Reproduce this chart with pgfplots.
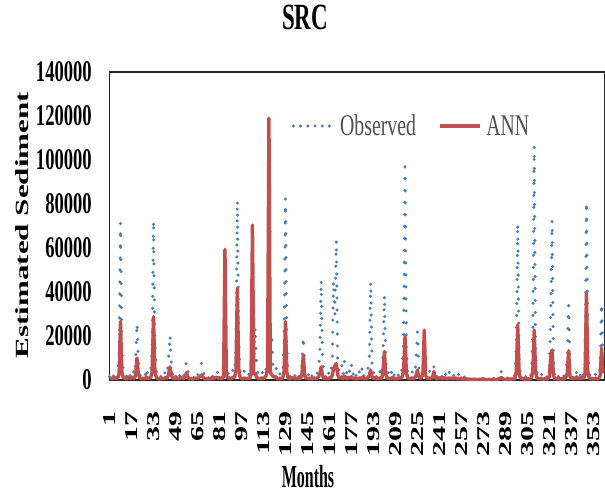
\documentclass[border=0pt]{standalone}
\usepackage{fontspec}
\setmainfont{Liberation Serif}
\newfontfamily\condA[FakeStretch=0.62]{Liberation Serif}
\newfontfamily\condL[FakeStretch=0.66]{Liberation Serif}
\newfontfamily\condM[FakeStretch=0.5]{Liberation Serif}
\usepackage{graphicx}
\usepackage{pgfplots}
\pgfplotsset{compat=1.18}
\definecolor{obsblue}{HTML}{4A7EBB}
\definecolor{annred}{HTML}{C0504D}
\definecolor{leggray}{HTML}{505050}
\pgfplotsset{
  linelegend/.style={legend image code/.code={\draw[##1] (0pt,0pt) -- (40pt,0pt);}},
  dotlegend/.style={legend image code/.code={\draw[##1, dash pattern=on 0pt off 7.2pt] (0pt,0pt) -- (40pt,0pt);}},
}
\begin{document}
\begin{tikzpicture}
\begin{axis}[
  at={(0pt,0pt)}, anchor=south west,
  scale only axis, width=495.5pt, height=308pt,
  xmin=1, xmax=361.5, ymin=0, ymax=140000,
  clip=false,
  axis line style={line width=1.2pt, black!85},
  major tick length=0pt,
  xtick={1,17,...,353},
  xticklabel={\scalebox{1}[0.6]{\pgfmathprintnumber[assume math mode=true]{\tick}}},
  xticklabel style={rotate=90, anchor=east, inner sep=0pt, font=\bfseries\fontsize{30}{30}\selectfont},
  xticklabel shift=31pt,
  ytick={0,20000,40000,60000,80000,100000,120000,140000},
  yticklabels={0,20000,40000,60000,80000,100000,120000,140000},
  scaled y ticks=false,
  yticklabel style={anchor=east, inner sep=0pt, font=\condA\bfseries\fontsize{30}{30}\selectfont},
  yticklabel shift=17.5pt,
  title={SRC},
  title style={at={(0.3946,1.1169)}, anchor=base, inner sep=0pt, font=\condA\bfseries\fontsize{37}{37}\selectfont},
  xlabel={Months},
  xlabel style={at={(0.4006,-0.3149)}, anchor=center, inner sep=0pt, font=\condM\bfseries\fontsize{32}{32}\selectfont},
  ylabel={\scalebox{1}[0.6]{Estimated Sediment}},
  ylabel style={at={(-0.1756,0.503)}, anchor=center, inner sep=0pt, font=\bfseries\fontsize{31}{31}\selectfont},
  legend columns=2,
  legend style={at={(0.6075,0.8247)}, anchor=center, draw=none, fill=none, inner sep=0pt,
    font=\condL\fontsize{30}{30}\selectfont, text=leggray, column sep=5pt,
    nodes={inner sep=0pt},
    /tikz/every even column/.append style={column sep=22pt}},
]
\addplot[obsblue, line width=3.4pt, line cap=round, line join=round, dash pattern=on 0pt off 12pt, dotlegend]
coordinates {
(1,1500)(2,3200)(3,800)(4,2100)(5,4200)(6,1200)(7,2800)(8,9500)(9,71500)(10,14000)(11,3500)(12,1800)
(13,1200)(14,2600)(15,4500)(16,1800)(17,3000)(18,5200)(19,2200)(20,7000)(21,25900)(22,9000)(23,2500)(24,1500)
(25,3000)(26,1400)(27,2200)(28,5600)(29,1800)(30,2600)(31,4000)(32,12000)(33,72700)(34,16000)(35,4200)(36,1600)
(37,2400)(38,1000)(39,3400)(40,1600)(41,2800)(42,4500)(43,3000)(44,9500)(45,20400)(46,7500)(47,2000)(48,3600)
(49,1200)(50,4200)(51,3000)(52,1800)(53,4500)(54,3800)(55,2000)(56,5000)(57,8300)(58,4000)(59,1500)(60,2200)
(61,1800)(62,900)(63,2400)(64,3500)(65,1600)(66,4800)(67,5500)(68,7900)(69,4200)(70,2000)(71,1000)(72,2600)
(73,1000)(74,2200)(75,3800)(76,1500)(77,3200)(78,4500)(79,4800)(80,2500)(81,3600)(82,1800)(83,1200)(84,2600)
(85,3200)(86,1500)(87,2800)(88,4000)(89,2200)(90,3000)(91,5200)(92,3800)(93,14000)(94,81800)(95,18000)(96,4000)
(97,2200)(98,1500)(99,4000)(100,2800)(101,1200)(102,3000)(103,2000)(104,3500)(105,5000)(106,9000)(107,24000)(108,6000)
(109,3000)(110,1800)(111,2600)(112,4200)(113,1500)(114,3200)(115,5200)(116,4000)(117,6500)(118,9000)(119,21000)(120,5000)
(121,5500)(122,6500)(123,2000)(124,1500)(125,2800)(126,1800)(127,3000)(128,16000)(129,82600)(130,15000)(131,3000)(132,1500)
(133,2200)(134,4200)(135,3800)(136,1600)(137,3000)(138,4000)(139,1400)(140,2600)(141,6500)(142,19700)(143,5000)(144,2400)
(145,3200)(146,2000)(147,4000)(148,1500)(149,2800)(150,3600)(151,1800)(152,3000)(153,5500)(154,12000)(155,45500)(156,9000)
(157,2400)(158,1200)(159,3800)(160,2000)(161,4500)(162,3000)(163,9000)(164,45000)(165,30000)(166,63600)(167,10000)(168,3000)
(169,3500)(170,6500)(171,2000)(172,8500)(173,4000)(174,2500)(175,5500)(176,3000)(177,7000)(178,2000)(179,4500)(180,1500)
(181,3000)(182,1200)(183,4500)(184,2500)(185,6000)(186,1800)(187,3000)(188,2200)(189,5000)(190,9000)(191,44700)(192,6000)
(193,2800)(194,5000)(195,1500)(196,3500)(197,2000)(198,4000)(199,1800)(200,12000)(201,38600)(202,8000)(203,2500)(204,4000)
(205,1500)(206,3000)(207,5500)(208,2200)(209,1200)(210,3500)(211,2000)(212,4500)(213,3000)(214,5000)(215,20000)(216,97000)
(217,14000)(218,3000)(219,1800)(220,2500)(221,4000)(222,2200)(223,3000)(224,8000)(225,22000)(226,6000)(227,2000)(228,3500)
(229,2500)(230,4500)(231,1500)(232,3000)(233,2000)(234,4000)(235,2500)(236,3000)(237,6000)(238,2000)(239,1200)(240,3000)
(241,2500)(242,3500)(243,1500)(244,4000)(245,2000)(246,3000)(247,1200)(248,3800)(249,2000)(250,3200)(251,1500)(252,2800)
(253,3500)(254,1200)(255,2500)(256,1800)(257,3000)(258,1000)(259,1500)(260,800)(261,1200)(262,600)(263,1000)(264,500)
(265,800)(266,400)(267,600)(268,300)(269,500)(270,800)(271,400)(272,1500)(273,300)(274,500)(275,400)(276,300)
(277,600)(278,400)(279,300)(280,500)(281,800)(282,400)(283,600)(284,1200)(285,2000)(286,3800)(287,1500)(288,800)
(289,500)(290,1200)(291,700)(292,1800)(293,900)(294,1500)(295,1000)(296,2500)(297,15000)(298,71200)(299,9000)(300,2500)
(301,3000)(302,1500)(303,2000)(304,1200)(305,2800)(306,1800)(307,1000)(308,3500)(309,20000)(310,106400)(311,12000)(312,3000)
(313,2200)(314,1000)(315,3000)(316,1500)(317,800)(318,2500)(319,1200)(320,2000)(321,5000)(322,30000)(323,72700)(324,6000)
(325,1500)(326,3000)(327,1000)(328,2200)(329,1200)(330,2800)(331,1500)(332,2000)(333,4000)(334,9000)(335,34000)(336,5000)
(337,2500)(338,1200)(339,3500)(340,2000)(341,4000)(342,1500)(343,2800)(344,1800)(345,4500)(346,2000)(347,8000)(348,81000)
(349,12000)(350,3000)(351,1500)(352,2500)(353,1000)(354,2000)(355,3000)(356,1500)(357,2500)(358,6000)(359,34800)(360,8000)
};
\addlegendentry{Observed}
\addplot[annred, line width=3.4pt, line join=round, linelegend]
coordinates {
(1,600)(2,900)(3,500)(4,700)(5,1100)(6,600)(7,900)(8,2800)(9,26500)(10,3500)(11,1200)(12,700)
(13,500)(14,800)(15,1200)(16,600)(17,900)(18,1300)(19,800)(20,2200)(21,10000)(22,2600)(23,900)(24,600)
(25,800)(26,500)(27,700)(28,1400)(29,600)(30,800)(31,1200)(32,3500)(33,28800)(34,4500)(35,1300)(36,600)
(37,700)(38,400)(39,900)(40,600)(41,800)(42,1200)(43,900)(44,2600)(45,6000)(46,2400)(47,700)(48,900)
(49,500)(50,1000)(51,800)(52,600)(53,1100)(54,900)(55,700)(56,1500)(57,3300)(58,1300)(59,500)(60,600)
(61,500)(62,400)(63,700)(64,900)(65,500)(66,1200)(67,1500)(68,2300)(69,1300)(70,700)(71,400)(72,600)
(73,400)(74,600)(75,900)(76,500)(77,800)(78,1100)(79,1200)(80,800)(81,1000)(82,700)(83,600)(84,1500)
(85,59400)(86,2500)(87,900)(88,1000)(89,700)(90,800)(91,1300)(92,1200)(93,4500)(94,41700)(95,5000)(96,1200)
(97,700)(98,500)(99,900)(100,800)(101,500)(102,800)(103,700)(104,2500)(105,70400)(106,2800)(107,3000)(108,1200)
(109,800)(110,600)(111,700)(112,1000)(113,600)(114,1200)(115,2000)(116,5500)(117,119000)(118,3500)(119,2500)(120,1500)
(121,1400)(122,1500)(123,700)(124,500)(125,800)(126,600)(127,900)(128,4000)(129,26500)(130,3800)(131,900)(132,500)
(133,700)(134,1000)(135,900)(136,500)(137,800)(138,900)(139,500)(140,800)(141,2500)(142,11400)(143,2200)(144,700)
(145,800)(146,600)(147,900)(148,500)(149,700)(150,900)(151,600)(152,800)(153,1500)(154,2500)(155,6000)(156,2000)
(157,700)(158,500)(159,900)(160,600)(161,1000)(162,900)(163,2000)(164,5000)(165,6500)(166,7500)(167,2500)(168,900)
(169,900)(170,1400)(171,600)(172,1800)(173,1000)(174,700)(175,1200)(176,800)(177,1500)(178,600)(179,1000)(180,500)
(181,800)(182,500)(183,1000)(184,700)(185,1300)(186,500)(187,800)(188,600)(189,1200)(190,2000)(191,4500)(192,1500)
(193,700)(194,1100)(195,500)(196,900)(197,600)(198,1000)(199,700)(200,3500)(201,12900)(202,2500)(203,800)(204,900)
(205,500)(206,800)(207,1200)(208,600)(209,400)(210,900)(211,600)(212,1000)(213,900)(214,1500)(215,4500)(216,19700)
(217,3200)(218,900)(219,600)(220,700)(221,1000)(222,700)(223,900)(224,2000)(225,4500)(226,1500)(227,800)(228,1000)
(229,2500)(230,22700)(231,2000)(232,800)(233,600)(234,900)(235,700)(236,1200)(237,3800)(238,1000)(239,500)(240,800)
(241,900)(242,1000)(243,600)(244,1100)(245,700)(246,900)(247,500)(248,1000)(249,700)(250,900)(251,600)(252,800)
(253,900)(254,500)(255,700)(256,600)(257,800)(258,400)(259,500)(260,400)(261,500)(262,300)(263,400)(264,300)
(265,300)(266,200)(267,300)(268,200)(269,300)(270,300)(271,200)(272,500)(273,200)(274,300)(275,200)(276,200)
(277,300)(278,200)(279,200)(280,300)(281,300)(282,200)(283,300)(284,500)(285,700)(286,1200)(287,600)(288,400)
(289,300)(290,400)(291,300)(292,500)(293,400)(294,500)(295,400)(296,800)(297,4000)(298,25000)(299,3000)(300,800)
(301,800)(302,500)(303,600)(304,400)(305,700)(306,500)(307,400)(308,900)(309,4500)(310,22700)(311,3500)(312,900)
(313,600)(314,400)(315,800)(316,500)(317,300)(318,700)(319,400)(320,600)(321,1500)(322,10500)(323,13600)(324,2000)
(325,500)(326,800)(327,400)(328,600)(329,400)(330,700)(331,500)(332,600)(333,1200)(334,3000)(335,13300)(336,1800)
(337,700)(338,500)(339,900)(340,700)(341,1400)(342,600)(343,900)(344,700)(345,1200)(346,800)(347,2500)(348,39400)
(349,4000)(350,1000)(351,500)(352,700)(353,400)(354,600)(355,800)(356,500)(357,700)(358,2000)(359,14400)(360,3000)
};
\addlegendentry{ANN}
\end{axis}
\pgfresetboundingbox
\path[use as bounding box] (-109.5pt,-115pt) rectangle (495.5pt,380pt);
\end{tikzpicture}
\end{document}
